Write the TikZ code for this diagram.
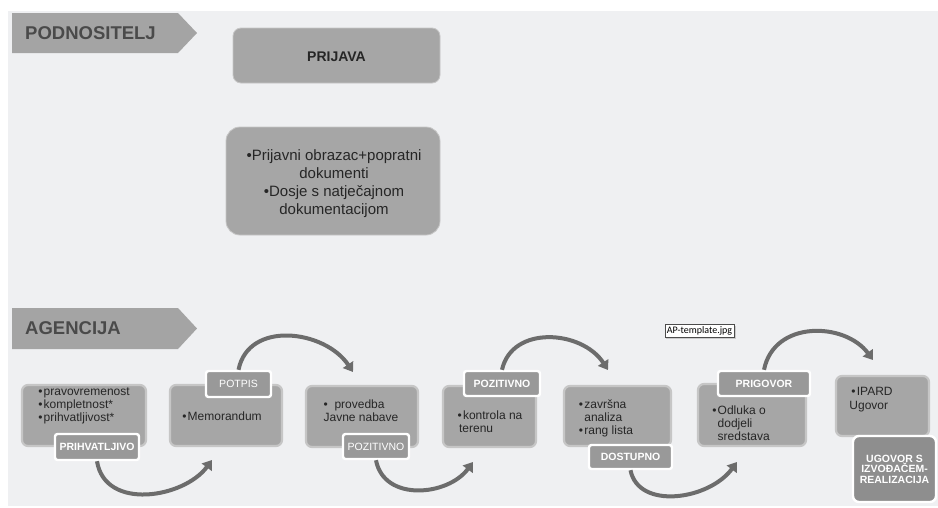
\documentclass[tikz,border=0pt]{standalone}
\usepackage{fontspec}
\setmainfont{Liberation Sans}
\newfontfamily\notefont{Carlito}
\usetikzlibrary{arrows.meta,shadows}

\definecolor{pagebg}{HTML}{EFF0F2}
\definecolor{tabfill}{HTML}{A4A4A4}
\definecolor{tabtext}{HTML}{4A4A4A}
\definecolor{boxfill}{HTML}{A6A6A6}
\definecolor{boxedge}{HTML}{C6C6C6}
\definecolor{tagfill}{HTML}{999999}
\definecolor{tagdark}{HTML}{8E8E8E}
\definecolor{flow}{HTML}{6C6C6C}
\definecolor{ink}{HTML}{262626}

\newcommand{\bul}{\textbullet\hspace{1.2pt}}

\tikzset{
  tab/.style={fill=tabfill, draw=none},
  tabtitle/.style={text=tabtext, font=\fontsize{18.5}{20}\selectfont\bfseries, inner sep=0pt, anchor=west},
  topbox/.style={fill=boxfill, draw=boxedge, line width=0.8pt, rounded corners=8pt},
  stagebox/.style={fill=boxfill, draw=boxedge, line width=2.2pt, rounded corners=6pt},
  boxtext/.style={text=ink, font=\fontsize{12}{12.8}\selectfont, align=left, inner sep=0pt},
  tag/.style={fill=tagfill, draw=white, line width=2.4pt, rounded corners=2.5pt, text=white,
              font=\fontsize{10.5}{12}\selectfont\bfseries, inner sep=0pt},
  tagthin/.style={tag, font=\fontsize{10.5}{12}\selectfont},
  flowarrow/.style={draw=flow, line width=4pt, -{Triangle[length=9pt,width=12pt]}},
}

\begin{document}
\begin{tikzpicture}[x=1pt,y=1pt]
  % page and panel
  \useasboundingbox (0,0) rectangle (938,-507);
  \fill[white] (0,0) rectangle (938,-507);
  \fill[pagebg] (8,-11) rectangle (938,-506);

  % ---- applicant lane ----
  \path[tab] (12,-13) -- (178,-13) -- (197,-33) -- (178,-53) -- (12,-53) -- cycle;
  \node[tabtitle] (podnositelj) at (25,-33) {PODNOSITELJ};

  \node[topbox, minimum width=207, minimum height=55] (prijava) at (336.5,-55.5) {};
  \node[text=ink, font=\fontsize{14}{16}\selectfont\bfseries] (prijavatxt) at (336.5,-57) {PRIJAVA};

  \node[topbox, rounded corners=14pt, minimum width=214, minimum height=108] (dokumenti) at (333,-181) {};
  \node[text=ink, font=\fontsize{15}{18}\selectfont, align=center, inner sep=0pt] (dokumentitxt) at (334,-184)
    {\textbullet Prijavni obrazac+popratni\\dokumenti\\\textbullet Dosje s natječajnom\\dokumentacijom};

  % ---- agency lane ----
  \path[tab] (12,-308) -- (178,-308) -- (197,-328.5) -- (178,-349) -- (12,-349) -- cycle;
  \node[tabtitle] (agencija) at (25,-328.5) {AGENCIJA};

  % stage boxes
  \node[stagebox, minimum width=124, minimum height=61] (b1) at (84,-415.5) {};
  \node[stagebox, minimum width=112, minimum height=61] (b2) at (226,-415.5) {};
  \node[stagebox, minimum width=112, minimum height=61] (b3) at (362,-416.5) {};
  \node[stagebox, minimum width=93, minimum height=61] (b4) at (489.5,-416.5) {};
  \node[stagebox, minimum width=107, minimum height=60] (b5) at (617.5,-416) {};
  \node[stagebox, minimum width=108, minimum height=62] (b6) at (752,-415) {};
  \node[stagebox, minimum width=93, minimum height=60] (b7) at (882.5,-406) {};

  % stage contents
  \node[boxtext] (t1) at (84,-406) {\bul pravovremenost\\\bul kompletnost*\\\bul prihvatljivost*};
  \node[boxtext] (t2) at (222,-416) {\bul Memorandum};
  \node[boxtext] (t3) at (361,-411) {\textbullet\ \ provedba\\Javne nabave};
  \node[boxtext] (t4) at (490,-422) {\bul kontrola na\\\hspace{1.5pt}terenu};
  \node[boxtext] (t5) at (606,-418.5) {\bul završna\\\phantom{\bul}analiza\\\bul rang lista};
  \node[boxtext] (t6) at (741,-423) {\bul Odluka o\\\phantom{\bul}dodjeli\\\phantom{\bul}sredstava};
  \node[boxtext, font=\fontsize{12}{14}\selectfont] (t7) at (871,-400) {\hspace{2pt}\bul IPARD\\Ugovor};

  % transition arrow end points
  \coordinate (e1) at (212,-460);
  \coordinate (e2) at (353,-372);
  \coordinate (e3) at (473,-462);
  \coordinate (e4) at (608,-370);
  \coordinate (e5) at (737,-462);
  \coordinate (e6) at (873,-360);

  % outcome tags
  \node[tag, minimum width=84, minimum height=26] (l1) at (97,-447) {PRIHVATLJIVO};
  \node[tagthin, minimum width=65, minimum height=26] (l2) at (238.5,-384) {POTPIS};
  \node[tagthin, minimum width=66, minimum height=25] (l3) at (376,-446.5) {POZITIVNO};
  \node[tag, minimum width=76, minimum height=25] (l4) at (502,-383.5) {POZITIVNO};
  \node[tag, minimum width=83, minimum height=24] (l5) at (630.5,-457) {DOSTUPNO};
  \node[tag, minimum width=92, minimum height=25] (l6) at (764,-383.5) {PRIGOVOR};
  \node[tag, fill=tagdark, rounded corners=6pt, minimum width=83, minimum height=66, align=center,
        font=\fontsize{10.5}{10.5}\selectfont\bfseries] (l7) at (894.5,-469)
        {UGOVOR S\\IZVOĐAČEM-\\REALIZACIJA};

  \draw[flowarrow] (l1.south) .. controls +(8,-50) and +(-28,-38) .. (e1);
  \draw[flowarrow] (l2.north) .. controls +(10,50) and +(-28,42) .. (e2);
  \draw[flowarrow] (l3.south) .. controls +(8,-42) and +(-25,-34) .. (e3);
  \draw[flowarrow] (l4.north) .. controls +(10,45) and +(-26,40) .. (e4);
  \draw[flowarrow] (l5.south) .. controls +(8,-40) and +(-28,-38) .. (e5);
  \draw[flowarrow] (l6.north) .. controls +(10,50) and +(-28,38) .. (e6);

  % file name tag
  \node[fill=white, draw=black!70, line width=0.5pt, inner xsep=2pt, inner ysep=1pt,
        minimum width=69, minimum height=13,
        drop shadow={shadow xshift=1.5pt, shadow yshift=-1.5pt, fill=black!35},
        font=\notefont\fontsize{10}{11}\selectfont] (apfile) at (699.5,-330.5) {AP-template.jpg};
\end{tikzpicture}
\end{document}
